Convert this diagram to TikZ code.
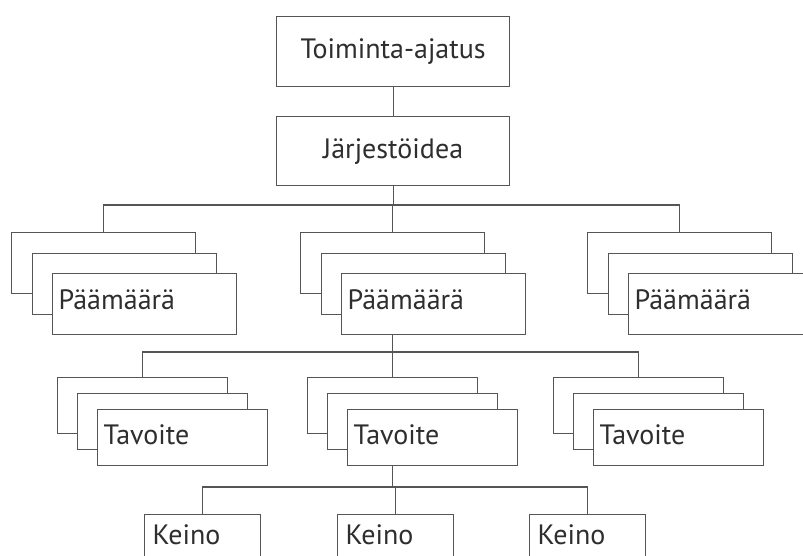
\documentclass[tikz,border=0pt]{standalone}
\usepackage{fontspec}
\setmainfont{PT Sans}
\definecolor{lc}{HTML}{555555}
\definecolor{tc}{HTML}{2E2E2E}
\begin{document}
\begin{tikzpicture}[x=1pt,y=-1pt,
  box/.style={draw=lc, line width=1.3pt, fill=white, inner sep=0pt, anchor=north west, text=tc, font=\fontsize{28}{30}\selectfont},
  topbox/.style={box, minimum width=233pt, minimum height=70pt},
  pbox/.style={box, minimum width=184pt, minimum height=61pt},
  tbox/.style={box, minimum width=170pt, minimum height=56pt},
  kbox/.style={box, minimum width=116pt, minimum height=44pt, text width=100pt, align=left, inner xsep=8pt, text depth=4pt},
  plbl/.style={text width=172pt, align=left, inner xsep=6pt, text depth=10pt},
  tlbl/.style={text width=158pt, align=left, inner xsep=6pt, text depth=6pt},
  conn/.style={draw=lc, line width=1.3pt}]
\useasboundingbox (0,0) rectangle (803,556);
\clip (0,0) rectangle (803,556);
% top
\node[topbox] (ta) at (276,16) {Toiminta-ajatus};
\node[topbox, minimum height=69pt] (jo) at (276,116) {Järjestöidea};
% Paamaara stacks
\node[pbox] (pa1) at (11,232) {};
\node[pbox] (pa2) at (31.5,252.5) {};
\node[pbox, plbl] (pa3) at (52,273) {Päämäärä};
\node[pbox] (pb1) at (300,232) {};
\node[pbox] (pb2) at (320.5,252.5) {};
\node[pbox, plbl] (pb3) at (341,273) {Päämäärä};
\node[pbox] (pc1) at (587,232) {};
\node[pbox] (pc2) at (607.5,252.5) {};
\node[pbox, plbl] (pc3) at (628,273) {Päämäärä};
% Tavoite stacks
\node[tbox] (ta1) at (57,377) {};
\node[tbox] (ta2) at (77,393) {};
\node[tbox, tlbl] (ta3) at (97,409) {Tavoite};
\node[tbox] (tb1) at (307,377) {};
\node[tbox] (tb2) at (327,393) {};
\node[tbox, tlbl] (tb3) at (347,409) {Tavoite};
\node[tbox] (tc1) at (553,377) {};
\node[tbox] (tc2) at (573,393) {};
\node[tbox, tlbl] (tc3) at (593,409) {Tavoite};
% Keino
\node[kbox] (k1) at (144,514) {Keino};
\node[kbox] (k2) at (337,514) {Keino};
\node[kbox] (k3) at (529,514) {Keino};
% buses
\coordinate (bus1) at (0,205);
\coordinate (bus2) at (0,352);
\coordinate (bus3) at (0,487);
% connectors
\draw[conn] (ta.south) -- (jo.north);
\draw[conn] (jo.south) -- (jo.south |- bus1);
\draw[conn] (pa1.north) -- (pa1.north |- bus1) -- (pc1.north |- bus1) -- (pc1.north);
\draw[conn] (pb1.north) -- (pb1.north |- bus1);
\draw[conn] (pb1.north |- pb3.south) -- (pb1.north |- bus2);
\draw[conn] (ta1.north) -- (ta1.north |- bus2) -- (tc1.north |- bus2) -- (tc1.north);
\draw[conn] (tb1.north) -- (tb1.north |- bus2);
\draw[conn] (tb1.north |- tb3.south) -- (tb1.north |- bus3);
\draw[conn] (k1.north) -- (k1.north |- bus3) -- (k3.north |- bus3) -- (k3.north);
\draw[conn] (k2.north) -- (k2.north |- bus3);
\end{tikzpicture}
\end{document}
